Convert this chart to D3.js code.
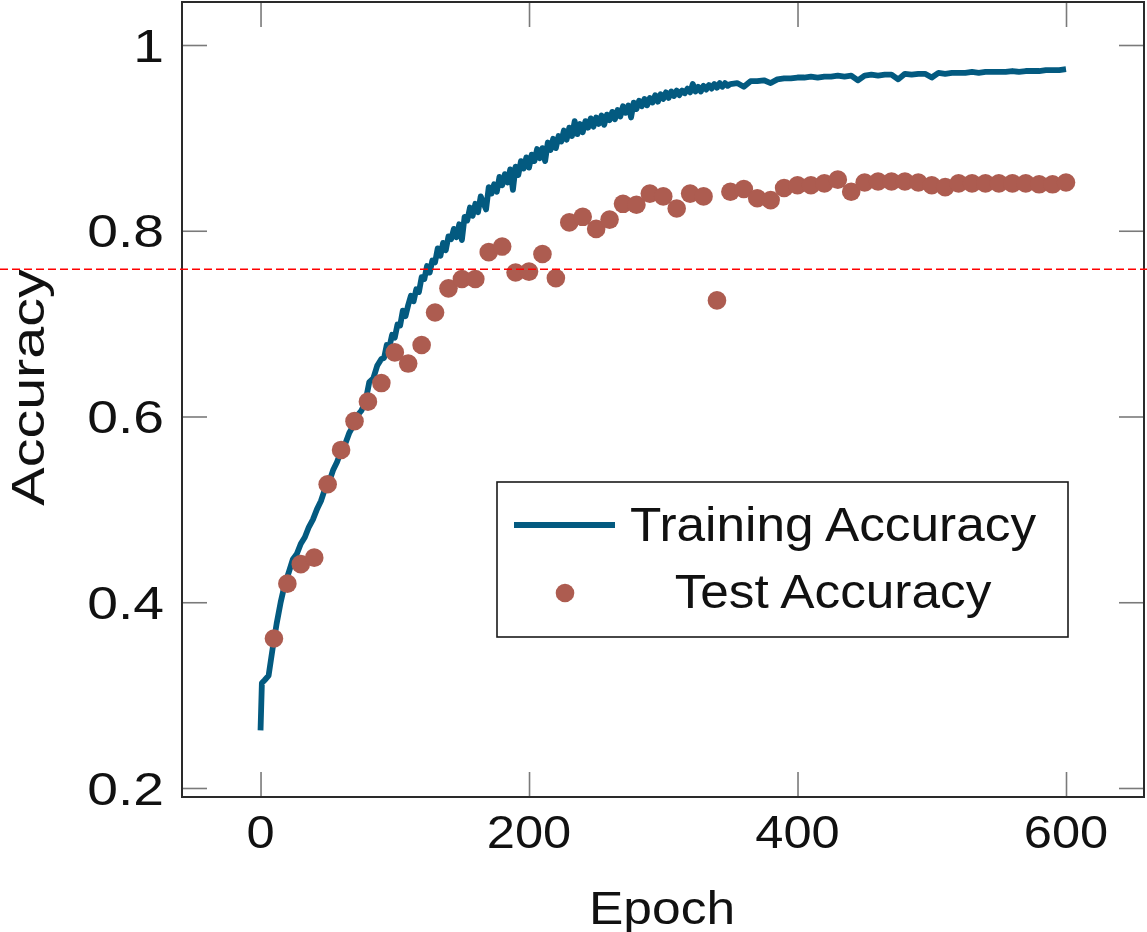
<!DOCTYPE html>
<html>
<head>
<meta charset="utf-8">
<script src="https://cdn.jsdelivr.net/npm/d3@7"></script>
<style>
  html, body { margin: 0; padding: 0; background: #fff; }
  svg { display: block; }
  text { font-family: "Liberation Sans", Arial, sans-serif; fill: #111; }
</style>
</head>
<body>
<svg id="chart" width="1147" height="932"></svg>
<script>
// ---------------- data ----------------
const xTicks = [0, 200, 400, 600];
const yTicks = [0.2, 0.4, 0.6, 0.8, 1];
const yTickLabels = ["0.2", "0.4", "0.6", "0.8", "1"];
const seriesNames = ["Training Accuracy", "Test Accuracy"];
const thresholdValue = 0.7585;

const trainEpochs = [0, 1].concat(d3.range(3, 90, 3), d3.range(90, 350, 2), d3.range(350, 601, 5));
const trainAcc = [
  0.262, 0.313,
  // epochs 3..87 (step 3)
  0.316, 0.321, 0.350, 0.377, 0.400, 0.419, 0.432, 0.446, 0.452, 0.463,
  0.470, 0.481, 0.489, 0.500, 0.509, 0.522, 0.529, 0.542, 0.551, 0.563,
  0.570, 0.582, 0.590, 0.601, 0.606, 0.615, 0.637, 0.641, 0.655,
  // epochs 90..348 (step 2)
  0.662, 0.663, 0.677, 0.675, 0.688, 0.685, 0.699, 0.698, 0.714, 0.708,
  0.720, 0.730, 0.724, 0.737, 0.734, 0.750, 0.748, 0.762, 0.755, 0.768,
  0.766, 0.781, 0.773, 0.787, 0.779, 0.794, 0.791, 0.802, 0.793, 0.807,
  0.790, 0.815, 0.811, 0.825, 0.816, 0.829, 0.820, 0.837, 0.830, 0.823,
  0.847, 0.840, 0.850, 0.842, 0.858, 0.849, 0.861, 0.852, 0.866, 0.844,
  0.869, 0.860, 0.875, 0.867, 0.879, 0.868, 0.882, 0.875, 0.888, 0.878,
  0.889, 0.875, 0.895, 0.887, 0.899, 0.889, 0.902, 0.896, 0.908, 0.898,
  0.911, 0.902, 0.918, 0.904, 0.915, 0.906, 0.918, 0.911, 0.921, 0.912,
  0.922, 0.915, 0.924, 0.914, 0.925, 0.919, 0.928, 0.920, 0.930, 0.923,
  0.934, 0.927, 0.935, 0.922, 0.938, 0.931, 0.940, 0.934, 0.942, 0.935,
  0.943, 0.938, 0.946, 0.939, 0.947, 0.942, 0.949, 0.943, 0.950, 0.945,
  0.951, 0.946, 0.951, 0.948, 0.953, 0.949, 0.958, 0.950, 0.955, 0.950,
  0.956, 0.952, 0.957, 0.953, 0.958, 0.954, 0.959, 0.955, 0.959, 0.956,
  // epochs 350..600 (step 5)
  0.958, 0.959, 0.955, 0.961, 0.961, 0.962, 0.959, 0.963, 0.964, 0.964,
  0.965, 0.965, 0.966, 0.965, 0.966, 0.966, 0.967, 0.966, 0.967, 0.962,
  0.967, 0.968, 0.967, 0.968, 0.968, 0.963, 0.969, 0.968, 0.969, 0.969,
  0.965, 0.970, 0.969, 0.970, 0.970, 0.970, 0.971, 0.970, 0.971, 0.971,
  0.971, 0.971, 0.972, 0.971, 0.972, 0.972, 0.972, 0.973, 0.973, 0.973,
  0.974
];

const testEpochs = d3.range(10, 601, 10);
const testAcc = [
  0.361, 0.420, 0.441, 0.448, 0.527, 0.564, 0.595, 0.616, 0.636, 0.669,
  0.657, 0.677, 0.712, 0.738, 0.748, 0.748, 0.777, 0.783, 0.755, 0.756,
  0.775, 0.749, 0.809, 0.815, 0.802, 0.812, 0.829, 0.828, 0.840, 0.837,
  0.824, 0.840, 0.837, 0.725, 0.842, 0.845, 0.835, 0.833, 0.846, 0.849,
  0.849, 0.851, 0.855, 0.842, 0.852, 0.853, 0.853, 0.853, 0.852, 0.849,
  0.847, 0.851, 0.851, 0.851, 0.851, 0.851, 0.851, 0.850, 0.850, 0.852
];

// ---------------- layout ----------------
const W = 1147, H = 932;
const plot = { left: 182, right: 1144, top: 2, bottom: 797 };
const colLine = "#035a80";
const colDot = "#ad5c50";
const tickLen = 25;
const fontSize = 46;

const x = d3.scaleLinear().domain([-58.5, 658.1]).range([plot.left, plot.right]);
const y = d3.scaleLinear().domain([0.1903, 1.0463]).range([plot.bottom, plot.top]);

const svg = d3.select("#chart");

const n = Math.min(trainEpochs.length, trainAcc.length);
const trainData = d3.range(n).map(i => [trainEpochs[i], trainAcc[i]]);
const testData = testEpochs.map((e, i) => [e, testAcc[i]]);

// training line
const line = d3.line().x(d => x(d[0])).y(d => y(d[1]));
svg.append("path")
  .datum(trainData)
  .attr("d", line)
  .attr("fill", "none")
  .attr("stroke", colLine)
  .attr("stroke-width", 5.8)
  .attr("stroke-linejoin", "round")
  .attr("stroke-linecap", "butt");

// test dots
svg.append("g").selectAll("circle")
  .data(testData)
  .join("circle")
  .attr("cx", d => x(d[0]))
  .attr("cy", d => y(d[1]))
  .attr("r", 9.3)
  .attr("fill", colDot);

// axes ticks (inside, mirrored)
const tickStyle = g => {
  g.select(".domain").remove();
  g.selectAll(".tick line").attr("stroke", "#7a7a7a").attr("stroke-width", 1.6);
  g.selectAll(".tick text").remove();
};
svg.append("g").attr("transform", `translate(0,${plot.bottom})`)
  .call(d3.axisBottom(x).tickValues(xTicks).tickSize(-tickLen).tickFormat(""))
  .call(tickStyle);
svg.append("g").attr("transform", `translate(0,${plot.top})`)
  .call(d3.axisTop(x).tickValues(xTicks).tickSize(-tickLen).tickFormat(""))
  .call(tickStyle);
svg.append("g").attr("transform", `translate(${plot.left},0)`)
  .call(d3.axisLeft(y).tickValues(yTicks).tickSize(-tickLen).tickFormat(""))
  .call(tickStyle);
svg.append("g").attr("transform", `translate(${plot.right},0)`)
  .call(d3.axisRight(y).tickValues(yTicks).tickSize(-tickLen).tickFormat(""))
  .call(tickStyle);

// frame
svg.append("rect")
  .attr("x", plot.left).attr("y", plot.top)
  .attr("width", plot.right - plot.left).attr("height", plot.bottom - plot.top)
  .attr("fill", "none").attr("stroke", "#2a2a2a").attr("stroke-width", 2);

// tick labels
svg.append("g").selectAll("text")
  .data(xTicks)
  .join("text")
  .attr("transform", d => `translate(${x(d)},848) scale(1.1,1)`)
  .attr("text-anchor", "middle")
  .attr("font-size", fontSize)
  .text(d => d);

svg.append("g").selectAll("text")
  .data(yTicks)
  .join("text")
  .attr("transform", d => `translate(164,${y(d)}) scale(1.2,1)`)
  .attr("text-anchor", "end")
  .attr("dy", "0.36em")
  .attr("font-size", fontSize)
  .text((d, i) => yTickLabels[i]);

// axis titles
svg.append("text")
  .attr("transform", `translate(${(plot.left + plot.right) / 2 - 1},924) scale(1.12,1)`)
  .attr("text-anchor", "middle")
  .attr("font-size", fontSize)
  .text("Epoch");

svg.append("text")
  .attr("transform", `translate(44,${(plot.top + plot.bottom) / 2 - 12}) rotate(-90) scale(1.25,1)`)
  .attr("text-anchor", "middle")
  .attr("font-size", fontSize)
  .text("Accuracy");

// threshold dashed line (across whole figure)
svg.append("line")
  .attr("x1", 0).attr("x2", W)
  .attr("y1", y(thresholdValue)).attr("y2", y(thresholdValue))
  .attr("stroke", "#ff0000").attr("stroke-width", 1.6)
  .attr("stroke-dasharray", "8,4");

// legend
const lg = svg.append("g").attr("transform", "translate(497,482)");
lg.append("rect")
  .attr("width", 571).attr("height", 155)
  .attr("fill", "#fff").attr("stroke", "#1a1a1a").attr("stroke-width", 1.6);
lg.append("line")
  .attr("x1", 17).attr("x2", 118).attr("y1", 43).attr("y2", 43)
  .attr("stroke", colLine).attr("stroke-width", 6);
lg.append("circle").attr("cx", 68).attr("cy", 111).attr("r", 9.3).attr("fill", colDot);
lg.selectAll("text.leg")
  .data(seriesNames)
  .join("text")
  .attr("class", "leg")
  .attr("transform", (d, i) => `translate(336,${i === 0 ? 59 : 126}) scale(1.07,1)`)
  .attr("text-anchor", "middle")
  .attr("font-size", 48)
  .text(d => d);
</script>
</body>
</html>
